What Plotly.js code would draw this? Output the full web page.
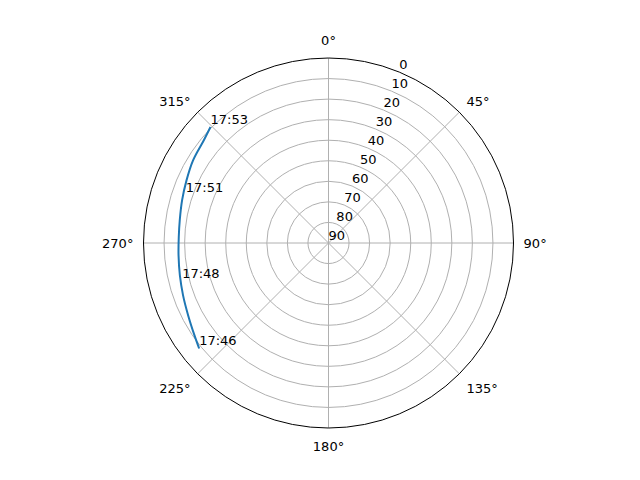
<!DOCTYPE html>
<html>
<head>
<meta charset="utf-8">
<script src="https://cdn.plot.ly/plotly-3.0.1.min.js"></script>
<style>html,body{margin:0;padding:0;background:#fff;}#chart{width:640px;height:480px;}</style>
</head>
<body>
<div id="chart"></div>
<script>
// Satellite pass: azimuth (deg, clockwise from north) and elevation (deg), in time order
const trackAzimuth = [230.8, 235.4, 242.8, 250.2, 257.7, 265.3, 272.3, 278.7, 286.3, 293.8, 301.4, 309.5, 314.5];
const trackElevation = [8.8, 10.8, 13.2, 14.8, 16.0, 16.8, 17.1, 16.8, 15.8, 14.5, 12.8, 11.4, 9.5];

const labelTimes = ["17:46", "17:48", "17:51", "17:53"];
const labelAzimuth = [230.8, 255.3, 288.5, 314.5];
const labelElevation = [8.8, 16.4, 16.8, 9.5];

const radialTicks = [0, 10, 20, 30, 40, 50, 60, 70, 80, 90];
const angularTicks = [0, 45, 90, 135, 180, 225, 270, 315];
const angularTickText = ["0°", "45°", "90°", "135°", "180°", "225°", "270°", "315°"];

// radial tick labels are drawn along this azimuth (matplotlib default 22.5°)
const RADIAL_LABEL_AZ = 22.5;

const font = {family: "DejaVu Sans", size: 13, color: "#000"};

const traces = [
  {
    type: "scatterpolar", mode: "lines",
    theta: trackAzimuth, r: trackElevation,
    line: {color: "#1f77b4", width: 2, shape: "spline"},
    hoverinfo: "skip", showlegend: false
  },
  {
    type: "scatterpolar", mode: "text",
    theta: labelAzimuth, r: labelElevation,
    text: labelTimes, textposition: "top right",
    textfont: font, hoverinfo: "skip", showlegend: false, cliponaxis: false
  },
  {
    type: "scatterpolar", mode: "text",
    theta: radialTicks.map(() => RADIAL_LABEL_AZ), r: radialTicks,
    text: radialTicks.map(String), textposition: "top right",
    textfont: font, hoverinfo: "skip", showlegend: false, cliponaxis: false
  }
];

const layout = {
  width: 640, height: 480,
  margin: {l: 80, r: 63, t: 58, b: 52, pad: 0},
  paper_bgcolor: "#fff", plot_bgcolor: "#fff",
  font: font,
  showlegend: false,
  polar: {
    bgcolor: "#fff",
    angularaxis: {
      rotation: 90, direction: "clockwise",
      tickvals: angularTicks, ticktext: angularTickText,
      ticks: "outside", ticklen: 7, tickcolor: "rgba(0,0,0,0)",
      showline: true, linecolor: "#000", linewidth: 1,
      gridcolor: "#b0b0b0", gridwidth: 1,
      tickfont: font
    },
    radialaxis: {
      range: [90, 0],
      tickvals: radialTicks,
      angle: 67.5, showticklabels: false,
      showline: false, ticks: "",
      gridcolor: "#b0b0b0", gridwidth: 1
    }
  }
};

Plotly.newPlot("chart", traces, layout, {staticPlot: true, displayModeBar: false});
</script>
</body>
</html>
